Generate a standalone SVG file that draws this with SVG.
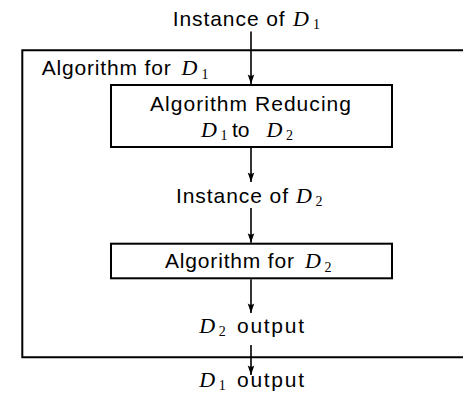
<svg xmlns="http://www.w3.org/2000/svg" width="463" height="399" viewBox="0 0 463 399">
<defs>
<style>
.box{fill:none;stroke:#000;stroke-width:2}
.conn{fill:none;stroke:#000;stroke-width:1.6}
.t{font-family:"Liberation Sans",Arial,sans-serif;font-size:21px;fill:#000}
.m{font-family:"Liberation Serif","Times New Roman",serif;font-style:italic;font-size:22px;fill:#000}
.s{font-family:"Liberation Serif","Times New Roman",serif;font-size:14px;fill:#000}
</style>
<marker id="arr" markerUnits="userSpaceOnUse" markerWidth="12" markerHeight="10" viewBox="-10 -5 12 10" refX="0" refY="0" orient="auto">
<path d="M0,0 L-9.5,-3.3 Q-7,0 -9.5,3.3 Z" fill="#000"/>
</marker>
</defs>
<rect width="463" height="399" fill="#fff"/>

<g id="outer">
<path class="box" d="M470,50.3 H22.3 V357.3 H470"/>
<text class="t" x="41.7" y="75.3" textLength="129" lengthAdjust="spacing">Algorithm for</text>
<text class="m" x="181.5" y="75.3">D</text><text class="s" x="201.5" y="78.6">1</text>
</g>

<g id="input">
<text class="t" x="172.7" y="25.7" textLength="112" lengthAdjust="spacing">Instance of</text>
<text class="m" x="293" y="25.7">D</text><text class="s" x="313" y="29">1</text>
</g>

<g id="reduce">
<rect class="box" x="111" y="85" width="281" height="62"/>
<text class="t" x="150" y="110.7" textLength="201" lengthAdjust="spacing">Algorithm Reducing</text>
<text class="m" x="201" y="136.7">D</text><text class="s" x="220.5" y="140">1</text>
<text class="t" x="232" y="136.7">to</text>
<text class="m" x="266.5" y="136.7">D</text><text class="s" x="286" y="140">2</text>
</g>

<g id="instance2">
<text class="t" x="176" y="202.7" textLength="112" lengthAdjust="spacing">Instance of</text>
<text class="m" x="296" y="202.7">D</text><text class="s" x="315.5" y="206">2</text>
</g>

<g id="algo2">
<rect class="box" x="111" y="243.7" width="281" height="34.6"/>
<text class="t" x="165" y="268.3" textLength="129" lengthAdjust="spacing">Algorithm for</text>
<text class="m" x="305" y="268.3">D</text><text class="s" x="324.5" y="271.6">2</text>
</g>

<g id="out2">
<text class="m" x="199.3" y="332.7">D</text><text class="s" x="218.8" y="336">2</text>
<text class="t" x="237" y="332.7" textLength="67" lengthAdjust="spacing">output</text>
</g>

<g id="out1">
<text class="m" x="199.3" y="387">D</text><text class="s" x="218.8" y="390.3">1</text>
<text class="t" x="237" y="387" textLength="67" lengthAdjust="spacing">output</text>
</g>

<g id="connectors">
<path class="conn" marker-end="url(#arr)" d="M251,31.5 V84"/>
<path class="conn" marker-end="url(#arr)" d="M251,148 V182"/>
<path class="conn" marker-end="url(#arr)" d="M251,208 V242.7"/>
<path class="conn" marker-end="url(#arr)" d="M251,279.3 V313"/>
<path class="conn" marker-end="url(#arr)" d="M251,345 V375"/>
</g>
</svg>
